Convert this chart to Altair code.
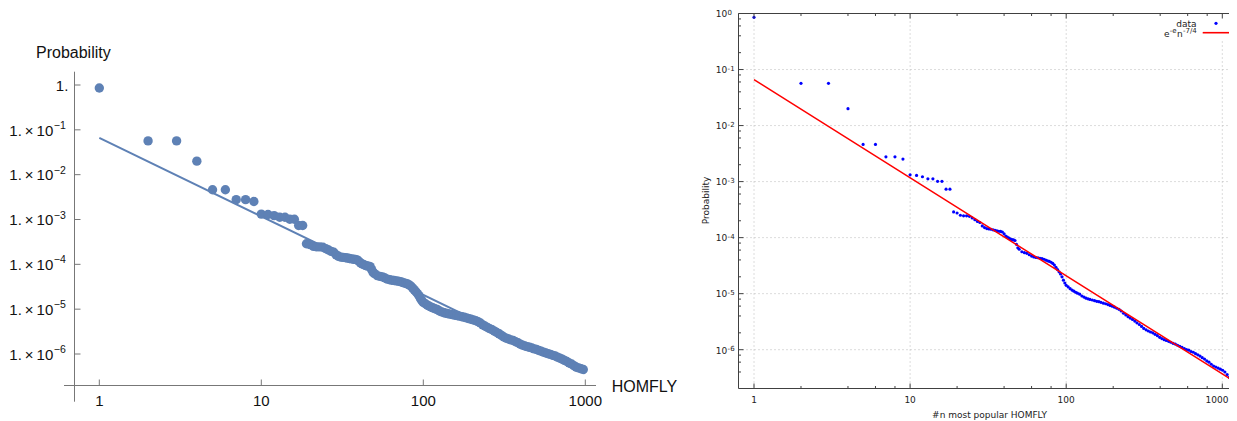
import altair as alt
import pandas as pd

# ---------------- data ----------------
RANK = [1, 2, 3, 4, 5, 6, 7, 8, 9, 10, 11, 12, 13, 14, 15, 16, 17, 18,
        19, 20, 21, 22, 23, 24, 25, 26, 27, 28, 29, 30, 31, 32, 33, 34, 35, 36, 37, 38,
        39, 40, 41, 42, 43, 44, 45, 46, 47, 48, 49, 50,
        52, 54, 56, 58, 60, 62, 64, 66, 68, 70, 72, 74, 76, 78, 80, 82, 84, 86, 88, 90,
        92, 94, 96, 98, 100,
        103, 106, 109, 112, 115, 118, 122, 126, 130, 134, 138, 142, 147, 152, 157, 162,
        167, 173, 179, 185, 191, 197, 204, 211, 218, 225, 233, 241, 249, 257, 266, 275,
        284, 294, 304, 314, 325, 336, 347, 359, 371, 384, 397, 410, 424, 438, 453, 468,
        484, 500, 517, 534, 552, 571, 590, 610, 631, 652, 674, 697, 720, 744, 769, 795,
        822, 850, 879, 909, 940, 972, 1005, 1039, 1074, 1110, 1148, 1187, 1227]

PROB = [0.855, 0.0567, 0.0567, 0.020, 0.00461, 0.00461, 0.00277, 0.00277, 0.00252,
        0.00132, 0.00129, 0.00122, 0.00112, 0.00112, 0.00101, 0.00101, 0.000734, 0.000734,
        2.88e-4, 2.75e-4, 2.51e-4, 2.45e-4, 2.45e-4, 2.40e-4, 2.24e-4, 2.09e-4, 1.95e-4, 1.86e-4,
        1.62e-4, 1.51e-4, 1.45e-4, 1.43e-4, 1.41e-4, 1.38e-4, 1.35e-4, 1.32e-4, 1.30e-4, 1.29e-4,
        1.26e-4, 1.17e-4, 1.07e-4, 1.02e-4, 9.8e-5, 9.4e-5, 9.2e-5, 9.1e-5, 8.9e-5, 7.6e-5,
        6.6e-5, 6.2e-5,
        5.6e-5, 5.4e-5, 5.25e-5, 4.95e-5, 4.68e-5, 4.52e-5, 4.42e-5, 4.37e-5, 4.27e-5, 4.22e-5,
        4.12e-5, 3.98e-5, 3.85e-5, 3.76e-5, 3.63e-5, 3.47e-5, 3.24e-5, 2.95e-5, 2.69e-5, 2.45e-5,
        2.24e-5, 2.0e-5, 1.74e-5, 1.55e-5, 1.41e-5,
        1.32e-5, 1.23e-5, 1.16e-5, 1.11e-5, 1.06e-5, 1.02e-5, 9.8e-6, 9.1e-6, 8.7e-6, 8.3e-6,
        8.1e-6, 7.9e-6, 7.7e-6, 7.5e-6, 7.3e-6, 7.2e-6, 7.0e-6, 6.76e-6, 6.6e-6, 6.38e-6,
        6.17e-6, 5.96e-6, 5.75e-6, 5.5e-6, 5.25e-6, 4.9e-6, 4.47e-6, 4.17e-6, 3.89e-6, 3.67e-6,
        3.47e-6, 3.24e-6, 3.02e-6, 2.82e-6, 2.6e-6, 2.4e-6, 2.26e-6, 2.16e-6, 2.07e-6, 2.0e-6,
        1.88e-6, 1.78e-6, 1.66e-6, 1.58e-6, 1.51e-6, 1.46e-6, 1.41e-6, 1.36e-6, 1.30e-6, 1.26e-6,
        1.20e-6, 1.15e-6, 1.10e-6, 1.05e-6, 1.01e-6, 9.8e-7, 9.3e-7, 9.0e-7, 8.5e-7, 8.1e-7,
        7.7e-7, 7.2e-7, 6.8e-7, 6.3e-7, 6.0e-7, 5.5e-7, 5.1e-7, 4.9e-7, 4.7e-7, 4.5e-7,
        4.3e-7, 4.0e-7, 3.6e-7, 3.2e-7, 3.0e-7, 3.0e-7, 3.0e-7]

FIT_N = [1, 1000, 1237]
FIT_P = [0.066, 3.7e-7, 2.56e-7]

X_DECADES = [1, 10, 100, 1000]
X_LABELS = ["1", "10", "100", "1000"]
Y_DECADES = [1, 1e-1, 1e-2, 1e-3, 1e-4, 1e-5, 1e-6]
Y_EXPONENTS = ["0", "\u22121", "\u22122", "\u22123", "\u22124", "\u22125", "\u22126"]
R_Y_EXPONENTS = ["0", "-1", "-2", "-3", "-4", "-5", "-6"]
X_MINOR = [2, 4, 6, 8, 20, 40, 60, 80, 200, 400, 600, 800]
Y_MINOR = [8e-1, 6e-1, 4e-1, 2e-1, 8e-2, 6e-2, 4e-2, 2e-2, 8e-3, 6e-3, 4e-3, 2e-3,
           8e-4, 6e-4, 4e-4, 2e-4, 8e-5, 6e-5, 4e-5, 2e-5, 8e-6, 6e-6, 4e-6, 2e-6,
           8e-7, 6e-7, 4e-7]

main = pd.DataFrame({"n": RANK, "p": PROB})
fit = pd.DataFrame({"n": FIT_N, "p": FIT_P})
one = pd.DataFrame({"a": [0]})

MBLUE = "#5E81B5"
LFONT = "Liberation Sans"
RFONT = "DejaVu Sans"

# ---------------- left panel (Mathematica style) ----------------
LX = alt.Scale(type="log", domain=[1, 1000], range=[91.3, 577.3], nice=False)
LY = alt.Scale(type="log", domain=[1e-6, 1], range=[346, 77], nice=False)


def xq(scale):
    return alt.X("n:Q", scale=scale, axis=None)


def yq(scale):
    return alt.Y("p:Q", scale=scale, axis=None)


left_points = alt.Chart(main[main["n"] <= 1000]).mark_circle(
    size=88, color=MBLUE, opacity=1).encode(x=xq(LX), y=yq(LY))
left_line = alt.Chart(fit[fit["n"] <= 1000]).mark_line(
    color=MBLUE, strokeWidth=2).encode(x=xq(LX), y=yq(LY))

AX = "#777777"
left_xaxis = alt.Chart(one).mark_rule(color=AX, strokeWidth=1).encode(
    x=alt.value(56), x2=alt.value(588), y=alt.value(377.5))
left_yaxis = alt.Chart(one).mark_rule(color=AX, strokeWidth=1).encode(
    x=alt.value(66.5), y=alt.value(63.7), y2=alt.value(393.7))
left_xticks = alt.Chart(pd.DataFrame({"n": X_DECADES})).mark_rule(
    color=AX, strokeWidth=1).encode(x=xq(LX), y=alt.value(377.5), y2=alt.value(371.5))
left_yticks = alt.Chart(pd.DataFrame({"p": Y_DECADES})).mark_rule(
    color=AX, strokeWidth=1).encode(y=yq(LY), x=alt.value(66.5), x2=alt.value(72.5))
left_xlabels = alt.Chart(pd.DataFrame({"n": X_DECADES, "t": X_LABELS})).mark_text(
    font=LFONT, fontSize=15, align="center", baseline="alphabetic", color="#111").encode(
    x=xq(LX), y=alt.value(398), text="t:N")

ydf = pd.DataFrame({"p": Y_DECADES, "e": Y_EXPONENTS})
left_one = alt.Chart(ydf[ydf["e"] == "0"]).mark_text(
    font=LFONT, fontSize=15, align="right", baseline="alphabetic", dy=5.7, color="#111").encode(
    x=alt.value(60.3), y=yq(LY), text=alt.value("1."))
left_base = alt.Chart(ydf[ydf["e"] != "0"]).mark_text(
    font=LFONT, fontSize=15, align="right", baseline="alphabetic", dy=5.7, color="#111").encode(
    x=alt.value(45.3), y=yq(LY), text=alt.value("1.\u2009\u00d7\u200910"))
left_exp = alt.Chart(ydf[ydf["e"] != "0"]).mark_text(
    font=LFONT, fontSize=10.5, align="left", baseline="alphabetic", dy=-1, color="#111").encode(
    x=alt.value(45.8), y=yq(LY), text="e:N")
left_ytitle = alt.Chart(one).mark_text(
    font=LFONT, fontSize=16, align="left", baseline="alphabetic", color="#111").encode(
    x=alt.value(28), y=alt.value(50.3), text=alt.value("Probability"))
left_xtitle = alt.Chart(one).mark_text(
    font=LFONT, fontSize=16, align="left", baseline="alphabetic", color="#111").encode(
    x=alt.value(603.7), y=alt.value(383.7), text=alt.value("HOMFLY"))

left = alt.layer(left_line, left_points, left_xaxis, left_yaxis, left_xticks, left_yticks,
                 left_xlabels, left_one, left_base, left_exp, left_ytitle, left_xtitle)

# ---------------- right panel (gnuplot style) ----------------
RX = alt.Scale(type="log", domain=[1, 1000], range=[746, 1214.3], nice=False)
RY = alt.Scale(type="log", domain=[1e-6, 1], range=[341.7, 5.5], nice=False)
FL, FR, FT, FB = 730.5, 1228.5, 5.5, 380.5
GRID = "#b8b8b8"
FRAME = "#404040"

grid_v = alt.Chart(pd.DataFrame({"n": X_DECADES})).mark_rule(
    color=GRID, strokeWidth=1, strokeDash=[1, 3]).encode(
    x=xq(RX), y=alt.value(FT), y2=alt.value(FB))
grid_h = alt.Chart(pd.DataFrame({"p": Y_DECADES[1:]})).mark_rule(
    color=GRID, strokeWidth=1, strokeDash=[1, 3]).encode(
    y=yq(RY), x=alt.value(FL), x2=alt.value(FR))
right_points = alt.Chart(main).mark_circle(size=10, color="#0000ff", opacity=1).encode(
    x=xq(RX), y=yq(RY))
right_line = alt.Chart(fit).mark_line(color="#ff0000", strokeWidth=1.5).encode(
    x=xq(RX), y=yq(RY))
legend_bg = alt.Chart(one).mark_rect(color="white").encode(
    x=alt.value(1150), x2=alt.value(1226), y=alt.value(6.5), y2=alt.value(32))
frame = alt.Chart(one).mark_rect(fill=None, stroke=FRAME, strokeWidth=1).encode(
    x=alt.value(FL), x2=alt.value(FR), y=alt.value(FT), y2=alt.value(FB))


def xticks(vals, length):
    d = pd.DataFrame({"n": vals})
    b = alt.Chart(d).mark_rule(color=FRAME, strokeWidth=1).encode(
        x=xq(RX), y=alt.value(FB), y2=alt.value(FB - length))
    t = alt.Chart(d).mark_rule(color=FRAME, strokeWidth=1).encode(
        x=xq(RX), y=alt.value(FT), y2=alt.value(FT + length))
    return [b, t]


def yticks(vals, length):
    d = pd.DataFrame({"p": vals})
    l = alt.Chart(d).mark_rule(color=FRAME, strokeWidth=1).encode(
        y=yq(RY), x=alt.value(FL), x2=alt.value(FL + length))
    return [l]


ticks = xticks(X_DECADES, 5) + xticks(X_MINOR, 2.5) + yticks(Y_DECADES, 5) + yticks(Y_MINOR, 2.5)

xl = pd.DataFrame({"n": X_DECADES, "t": X_LABELS})
right_xlabels = alt.Chart(xl[xl["n"] < 1000]).mark_text(
    font=RFONT, fontSize=9, align="center", baseline="alphabetic", color="#222").encode(
    x=xq(RX), y=alt.value(394.7), text="t:N")
right_xlabel_last = alt.Chart(xl[xl["n"] == 1000]).mark_text(
    font=RFONT, fontSize=9, align="right", baseline="alphabetic", color="#222").encode(
    x=alt.value(1220.5), y=alt.value(394.7), text="t:N")
rydf = pd.DataFrame({"p": Y_DECADES, "e": R_Y_EXPONENTS})
right_ybase = alt.Chart(rydf).mark_text(
    font=RFONT, fontSize=9, align="right", baseline="alphabetic", dy=3.8, color="#222").encode(
    x=alt.value(719.3), y=yq(RY), text=alt.value("10"))
right_yexp = alt.Chart(rydf).mark_text(
    font=RFONT, fontSize=7, align="left", baseline="alphabetic", dy=1.2, color="#222").encode(
    x=alt.value(719.6), y=yq(RY), text="e:N")
right_xtitle = alt.Chart(one).mark_text(
    font=RFONT, fontSize=9, align="center", baseline="alphabetic", color="#222").encode(
    x=alt.value(981.5), y=alt.value(410), text=alt.value("#n most popular HOMFLY"))
right_ytitle = alt.Chart(one).mark_text(
    font=RFONT, fontSize=9, align="center", baseline="middle", angle=270, color="#222").encode(
    x=alt.value(698), y=alt.value(192.5), text=alt.value("Probability"))

# legend
leg_data_txt = alt.Chart(one).mark_text(
    font=RFONT, fontSize=9, align="right", baseline="alphabetic", color="#222").encode(
    x=alt.value(1188.5), y=alt.value(18.7), text=alt.value("data"))
leg_dot = alt.Chart(one).mark_circle(size=10, color="#0000ff", opacity=1).encode(
    x=alt.value(1208), y=alt.value(15.3))
leg_parts = [("-7/4", 7, 1188.7, -3.5), ("n", 9, 1174.6, 0),
             ("-e", 7, 1168.6, -3.5), ("e", 9, 1161.5, 0)]
leg_fit_txt = [alt.Chart(one).mark_text(
    font=RFONT, fontSize=fs, align="right", baseline="alphabetic", dy=dy, color="#222").encode(
    x=alt.value(xp), y=alt.value(28.7), text=alt.value(t)) for t, fs, xp, dy in leg_parts]
leg_line = alt.Chart(one).mark_rule(color="#ff0000", strokeWidth=1.6).encode(
    x=alt.value(1194.7), x2=alt.value(1221.3), y=alt.value(24.7))

right = alt.layer(grid_v, grid_h, right_points, right_line, legend_bg, frame, *ticks,
                  right_xlabels, right_xlabel_last, right_ybase, right_yexp, right_xtitle,
                  right_ytitle, leg_data_txt, leg_dot, *leg_fit_txt, leg_line)

chart = alt.layer(left, right).resolve_scale(
    x="independent", y="independent").properties(
    width=1221, height=413, padding=0,
    autosize=alt.AutoSizeParams(type="none")).configure_view(stroke=None)

chart.save("out.html", embed_options={"renderer": "svg", "actions": False})
